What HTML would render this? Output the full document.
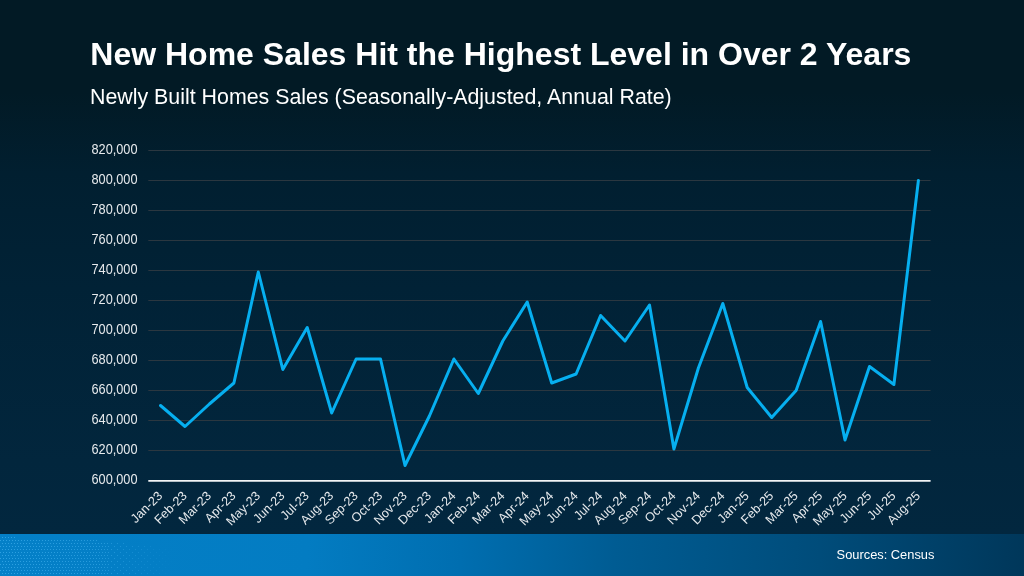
<!DOCTYPE html>
<html lang="en"><head><meta charset="utf-8"><title>New Home Sales Hit the Highest Level in Over 2 Years</title>
<style>
html,body{margin:0;padding:0;}
body{width:1024px;height:576px;overflow:hidden;position:relative;font-family:"Liberation Sans",Arial,sans-serif;
background:linear-gradient(180deg,#021a25 0%,#021a25 16%,#011f30 30%,#012236 50%,#02263d 80%,#02273f 93%);}
.footer{position:absolute;left:0;top:534px;width:1024px;height:42px;
background:linear-gradient(93deg,#0480c8 0%,#037cc2 30%,#006eb0 45%,#005c93 60%,#004c7a 80%,#00375a 100%);}
h1{position:absolute;left:90.3px;top:35.6px;margin:0;font-size:32px;line-height:36px;font-weight:bold;color:#fff;white-space:nowrap;letter-spacing:0;}
h2{position:absolute;left:90px;top:85.1px;margin:0;font-size:21.37px;line-height:24px;font-weight:normal;color:#fff;white-space:nowrap;}
.src{position:absolute;left:836.6px;top:547.4px;font-size:12.85px;line-height:16px;color:#fff;white-space:nowrap;}
svg{position:absolute;left:0;top:0;}
svg text{font-family:"Liberation Sans",Arial,sans-serif;fill:#e6e9ec;}
.yl text{font-size:13.8px;text-anchor:end;}
.xl text{font-size:12.6px;text-anchor:end;}
</style></head><body>
<div class="footer"></div>
<h1>New Home Sales Hit the Highest Level in Over 2 Years</h1>
<h2>Newly Built Homes Sales (Seasonally-Adjusted, Annual Rate)</h2>
<svg width="1024" height="576" viewBox="0 0 1024 576">
<defs>
<pattern id="dt" width="3" height="6" patternUnits="userSpaceOnUse"><rect x="0" y="0" width="1" height="1" fill="#35a6e6"/><rect x="2" y="3" width="1" height="1" fill="#35a6e6"/></pattern>
<pattern id="dt2" width="6" height="6" patternUnits="userSpaceOnUse"><rect x="0" y="0" width="1" height="1" fill="#35a6e6"/><rect x="3" y="3" width="1" height="1" fill="#35a6e6"/></pattern>
<linearGradient id="fd" x1="0" y1="0" x2="1" y2="0"><stop offset="0" stop-color="#fff" stop-opacity="0.85"/><stop offset="0.55" stop-color="#fff" stop-opacity="0.7"/><stop offset="1" stop-color="#fff" stop-opacity="0"/></linearGradient>
<mask id="mk"><rect x="0" y="534" width="175" height="42" fill="url(#fd)"/></mask>
</defs>
<polygon points="0,537 95,540 110,542 110,576 0,576" fill="url(#dt)" mask="url(#mk)" shape-rendering="crispEdges"/>
<polygon points="110,542 178,549 178,576 110,576" fill="url(#dt2)" mask="url(#mk)" shape-rendering="crispEdges"/>
<g stroke="#2b3740" stroke-width="1" shape-rendering="auto">
<line x1="148.3" y1="150.5" x2="930.6" y2="150.5"/>
<line x1="148.3" y1="180.5" x2="930.6" y2="180.5"/>
<line x1="148.3" y1="210.5" x2="930.6" y2="210.5"/>
<line x1="148.3" y1="240.5" x2="930.6" y2="240.5"/>
<line x1="148.3" y1="270.5" x2="930.6" y2="270.5"/>
<line x1="148.3" y1="300.5" x2="930.6" y2="300.5"/>
<line x1="148.3" y1="330.5" x2="930.6" y2="330.5"/>
<line x1="148.3" y1="360.5" x2="930.6" y2="360.5"/>
<line x1="148.3" y1="390.5" x2="930.6" y2="390.5"/>
<line x1="148.3" y1="420.5" x2="930.6" y2="420.5"/>
<line x1="148.3" y1="450.5" x2="930.6" y2="450.5"/>
</g>
<line x1="148.3" y1="480.85" x2="930.6" y2="480.85" stroke="#f2f4f6" stroke-width="1.7"/>
<g class="yl">
<text transform="translate(137.55,154.05) scale(0.925,1)">820,000</text>
<text transform="translate(137.55,184.05) scale(0.925,1)">800,000</text>
<text transform="translate(137.55,214.05) scale(0.925,1)">780,000</text>
<text transform="translate(137.55,244.05) scale(0.925,1)">760,000</text>
<text transform="translate(137.55,274.05) scale(0.925,1)">740,000</text>
<text transform="translate(137.55,304.05) scale(0.925,1)">720,000</text>
<text transform="translate(137.55,334.05) scale(0.925,1)">700,000</text>
<text transform="translate(137.55,364.05) scale(0.925,1)">680,000</text>
<text transform="translate(137.55,394.05) scale(0.925,1)">660,000</text>
<text transform="translate(137.55,424.05) scale(0.925,1)">640,000</text>
<text transform="translate(137.55,454.05) scale(0.925,1)">620,000</text>
<text transform="translate(137.55,484.05) scale(0.925,1)">600,000</text>
</g>
<g class="xl">
<text transform="translate(163.1,496.5) rotate(-45)">Jan-23</text>
<text transform="translate(187.6,496.5) rotate(-45)">Feb-23</text>
<text transform="translate(212.0,496.5) rotate(-45)">Mar-23</text>
<text transform="translate(236.5,496.5) rotate(-45)">Apr-23</text>
<text transform="translate(260.9,496.5) rotate(-45)">May-23</text>
<text transform="translate(285.4,496.5) rotate(-45)">Jun-23</text>
<text transform="translate(309.8,496.5) rotate(-45)">Jul-23</text>
<text transform="translate(334.3,496.5) rotate(-45)">Aug-23</text>
<text transform="translate(358.7,496.5) rotate(-45)">Sep-23</text>
<text transform="translate(383.1,496.5) rotate(-45)">Oct-23</text>
<text transform="translate(407.6,496.5) rotate(-45)">Nov-23</text>
<text transform="translate(432.0,496.5) rotate(-45)">Dec-23</text>
<text transform="translate(456.5,496.5) rotate(-45)">Jan-24</text>
<text transform="translate(480.9,496.5) rotate(-45)">Feb-24</text>
<text transform="translate(505.4,496.5) rotate(-45)">Mar-24</text>
<text transform="translate(529.8,496.5) rotate(-45)">Apr-24</text>
<text transform="translate(554.3,496.5) rotate(-45)">May-24</text>
<text transform="translate(578.7,496.5) rotate(-45)">Jun-24</text>
<text transform="translate(603.2,496.5) rotate(-45)">Jul-24</text>
<text transform="translate(627.6,496.5) rotate(-45)">Aug-24</text>
<text transform="translate(652.1,496.5) rotate(-45)">Sep-24</text>
<text transform="translate(676.5,496.5) rotate(-45)">Oct-24</text>
<text transform="translate(701.0,496.5) rotate(-45)">Nov-24</text>
<text transform="translate(725.4,496.5) rotate(-45)">Dec-24</text>
<text transform="translate(749.8,496.5) rotate(-45)">Jan-25</text>
<text transform="translate(774.3,496.5) rotate(-45)">Feb-25</text>
<text transform="translate(798.7,496.5) rotate(-45)">Mar-25</text>
<text transform="translate(823.2,496.5) rotate(-45)">Apr-25</text>
<text transform="translate(847.6,496.5) rotate(-45)">May-25</text>
<text transform="translate(872.1,496.5) rotate(-45)">Jun-25</text>
<text transform="translate(896.5,496.5) rotate(-45)">Jul-25</text>
<text transform="translate(921.0,496.5) rotate(-45)">Aug-25</text>
</g>
<polyline fill="none" stroke="#06aff0" stroke-width="3" stroke-linejoin="round" stroke-linecap="round" points="160.5,405.5 185.0,426.5 209.4,404.0 233.9,383.0 258.3,272.0 282.8,369.5 307.2,327.5 331.7,413.0 356.1,359.0 380.5,359.0 405.0,465.5 429.4,416.0 453.9,359.0 478.3,393.5 502.8,341.0 527.2,302.0 551.7,383.0 576.1,374.0 600.6,315.5 625.0,341.0 649.5,305.0 673.9,449.0 698.4,368.0 722.8,303.5 747.2,387.5 771.7,417.5 796.1,390.5 820.6,321.5 845.0,440.0 869.5,366.5 893.9,384.5 918.4,180.5"/>
</svg>
<div class="src">Sources: Census</div>
</body></html>
